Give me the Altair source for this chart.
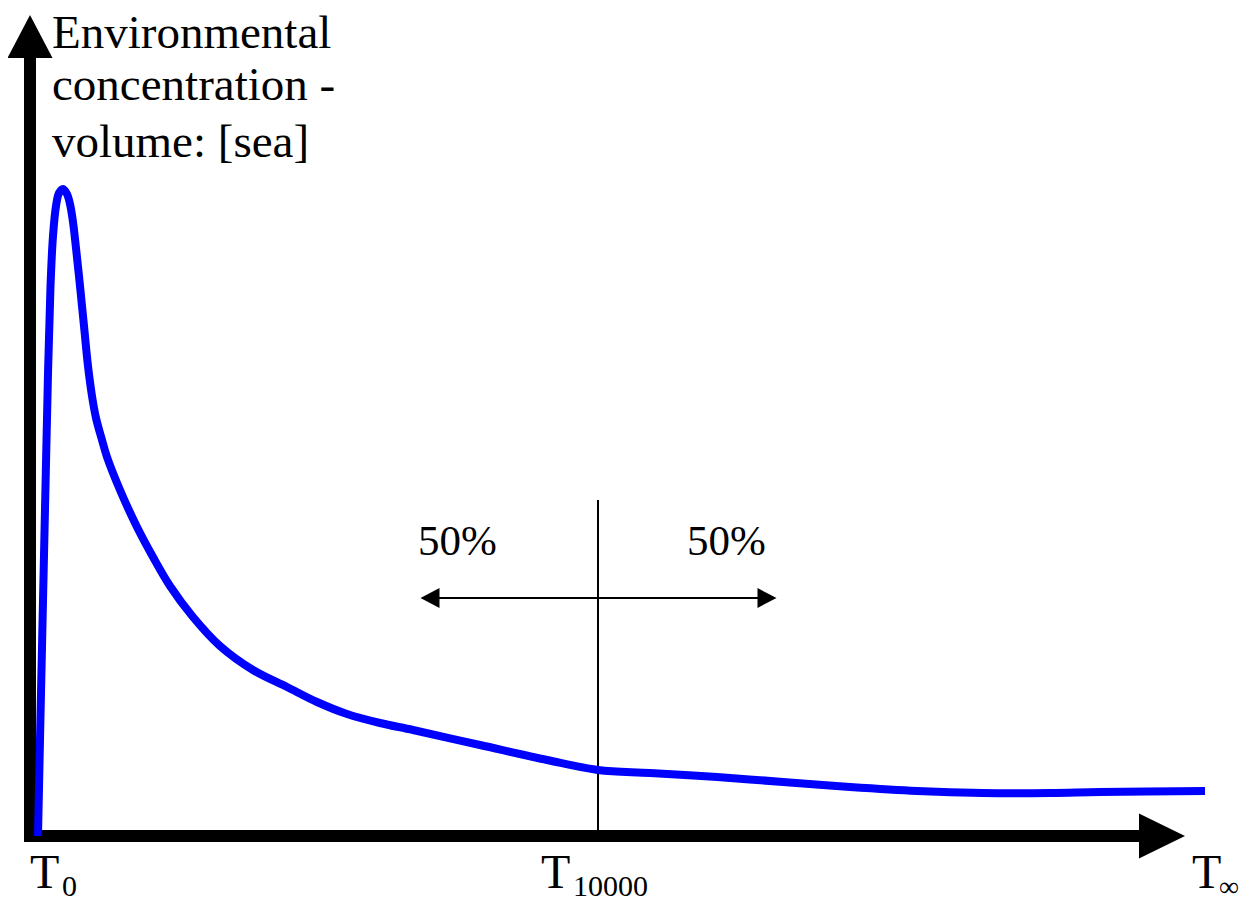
import altair as alt
import pandas as pd

# ---- data (arbitrary time / concentration units) ----
curve_time = [8, 10.5, 13, 15.5, 18, 20.5, 23, 26, 29, 33, 37, 40, 43, 46, 50, 54, 58, 62, 66, 72, 77,
              90, 107, 123, 140, 163, 190, 223, 257, 287, 317, 350, 383, 450, 517, 568, 620, 687, 753, 820,
              887, 953, 1020, 1070, 1175]
curve_conc = [0, 120, 235, 350, 462, 550, 600, 630, 643, 647, 642, 632, 614, 588, 550, 510, 470, 440, 418, 396, 379,
              346, 309, 279, 250, 219, 190, 166, 149, 134, 122, 113, 106, 91, 76, 66, 63, 59, 54, 49,
              45, 43, 43, 44, 45]

t_half = 568          # T10000 position
arrow_level = 238     # level of the 50% / 50% arrow
arrow_span = [400, 737]

label_text = ["Environmental", "concentration -", "volume: [sea]", "50%", "50%",
              "T", "0", "T", "10000", "T", "∞"]
label_t = [22, 22, 22, 388, 657, 0, 32, 511, 543, 1162, 1189]
label_c = [788, 736, 679, 281, 281, -52, -60, -52, -60, -52, -60]
label_size = [47, 47, 47, 43, 43, 48, 30, 48, 30, 48, 28]

# ---- frame ----
W, H = 1232, 890
x_dom = [-22, 1210]
y_dom = [-62, 828]
xs = alt.Scale(domain=x_dom, nice=False, zero=False)
ys = alt.Scale(domain=y_dom, nice=False, zero=False)
FONT = "Liberation Serif, Times New Roman, Times, serif"

axes_df = pd.DataFrame({"t": [0, -6], "c": [-6, 0], "t2": [0, 1109], "c2": [778, 0]})
half_df = pd.DataFrame({"t": [t_half, arrow_span[0]], "c": [0, arrow_level],
                        "t2": [t_half, arrow_span[1]], "c2": [336, arrow_level]})
heads_df = pd.DataFrame({
    "t": [0, 1132, arrow_span[0], arrow_span[1]],
    "c": [799.5, 0, arrow_level, arrow_level],
    "shape": ["M-1,0.956L0,-0.956L1,0.956Z", "M-1,-0.978L1,0L-1,0.978Z",
              "M1,-1.05L-1,0L1,1.05Z", "M-1,-1.05L1,0L-1,1.05Z"],
    "size": [2025, 2116, 361, 361],
})
curve_df = pd.DataFrame({"t": curve_time, "c": curve_conc})
labels_df = pd.DataFrame({"text": label_text, "t": label_t, "c": label_c, "size": label_size})

axes = alt.Chart(axes_df).mark_rule(color="black", strokeWidth=12).encode(
    x=alt.X("t:Q", scale=xs, axis=None), y=alt.Y("c:Q", scale=ys, axis=None),
    x2="t2:Q", y2="c2:Q")

half = alt.Chart(half_df).mark_rule(color="black", strokeWidth=2).encode(
    x=alt.X("t:Q", scale=xs, axis=None), y=alt.Y("c:Q", scale=ys, axis=None),
    x2="t2:Q", y2="c2:Q")

heads = alt.Chart(heads_df).mark_point(filled=True, opacity=1, color="black", strokeWidth=0).encode(
    x=alt.X("t:Q", scale=xs, axis=None), y=alt.Y("c:Q", scale=ys, axis=None),
    shape=alt.Shape("shape:N", scale=None, legend=None),
    size=alt.Size("size:Q", scale=None, legend=None))

curve = alt.Chart(curve_df).mark_line(color="#0000FF", strokeWidth=8, interpolate="catmull-rom",
                                      strokeCap="butt").encode(
    x=alt.X("t:Q", scale=xs, axis=None), y=alt.Y("c:Q", scale=ys, axis=None))

labels = alt.Chart(labels_df).mark_text(font=FONT, align="left", baseline="alphabetic",
                                        color="black").encode(
    x=alt.X("t:Q", scale=xs, axis=None), y=alt.Y("c:Q", scale=ys, axis=None),
    text="text:N", size=alt.Size("size:Q", scale=None, legend=None))

chart = alt.layer(axes, half, heads, curve, labels).properties(
    width=W, height=H, autosize=alt.AutoSizeParams(type="none"), padding=0
).configure_view(strokeWidth=0)

chart.save("out.html", embed_options={"renderer": "svg", "actions": False})
